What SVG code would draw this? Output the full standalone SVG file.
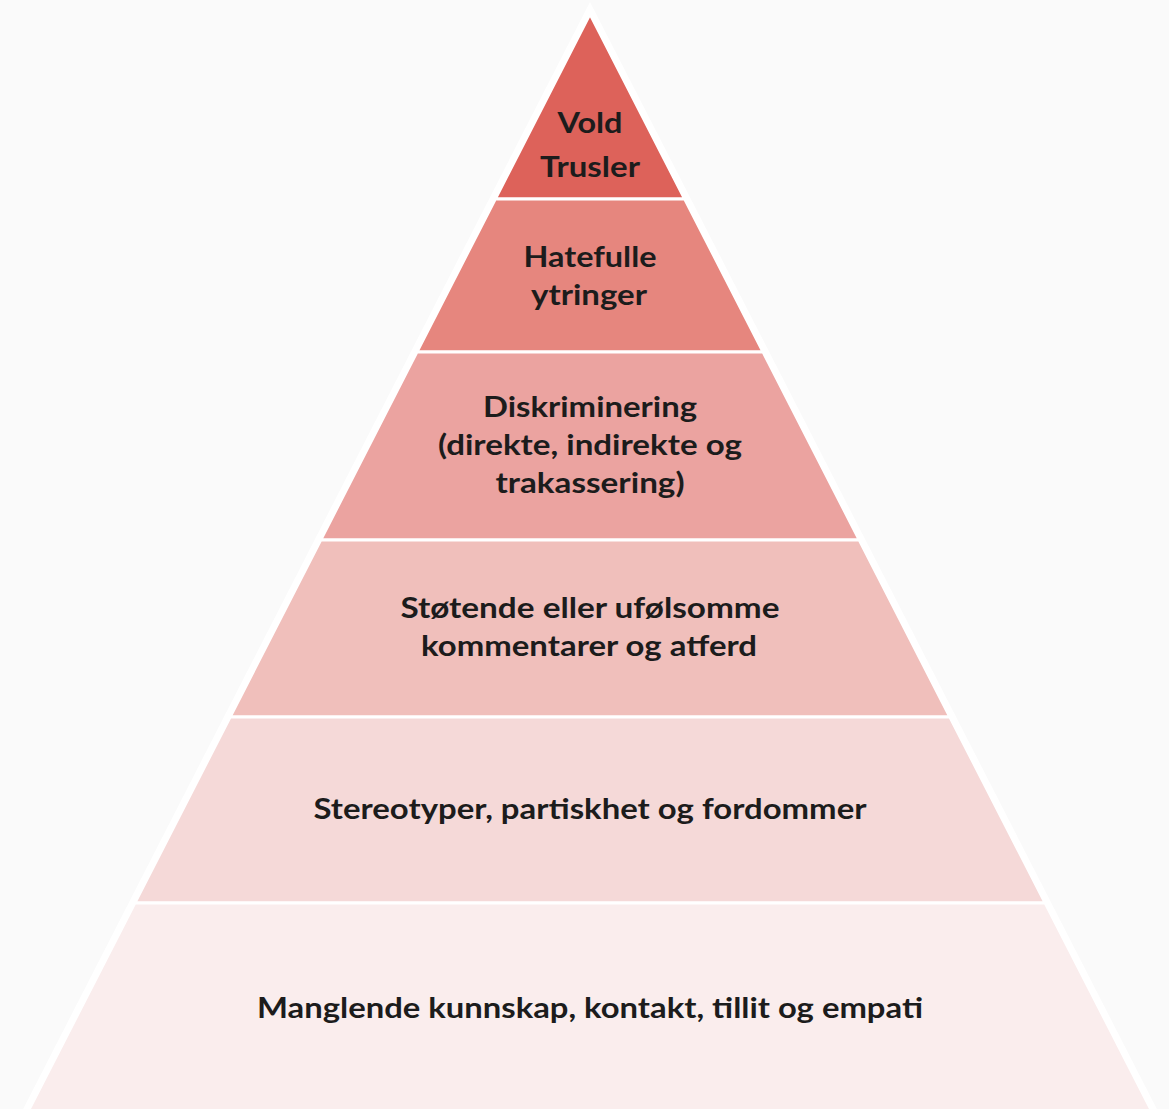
<svg xmlns="http://www.w3.org/2000/svg" width="1169" height="1109" viewBox="0 0 1169 1109">
  <style>
    .layer { stroke: #ffffff; stroke-width: 3; stroke-linejoin: miter; }
    .lbl { font-family: Lato, "Open Sans", "Liberation Sans", sans-serif; font-weight: bold; font-size: 29px; fill: #1c1c1c; text-anchor: middle; }
  </style>
  <rect x="0" y="0" width="1169" height="1109" fill="#fafafa"/>
  <polygon points="590,14 23.7,1120 1156.3,1120" fill="#ffffff" stroke="#ffffff" stroke-width="11" stroke-linejoin="miter"/>
  <g id="layer1">
    <polygon class="layer" points="590,14 684.7,199 495.3,199" fill="#dd625a"/>
    <text class="lbl" x="590" y="133" textLength="65" lengthAdjust="spacingAndGlyphs">Vold</text>
    <text class="lbl" x="590" y="177" textLength="100" lengthAdjust="spacingAndGlyphs">Trusler</text>
  </g>
  <g id="layer2">
    <polygon class="layer" points="495.3,199 684.7,199 763.1,352 416.9,352" fill="#e6867e"/>
    <text class="lbl" x="590" y="267" textLength="133" lengthAdjust="spacingAndGlyphs">Hatefulle</text>
    <text class="lbl" x="589" y="305" textLength="116" lengthAdjust="spacingAndGlyphs">ytringer</text>
  </g>
  <g id="layer3">
    <polygon class="layer" points="416.9,352 763.1,352 859.3,540 320.7,540" fill="#eba3a0"/>
    <text class="lbl" x="590" y="417" textLength="214" lengthAdjust="spacingAndGlyphs">Diskriminering</text>
    <text class="lbl" x="590" y="455" textLength="304" lengthAdjust="spacingAndGlyphs">(direkte, indirekte og</text>
    <text class="lbl" x="590" y="493" textLength="189" lengthAdjust="spacingAndGlyphs">trakassering)</text>
  </g>
  <g id="layer4">
    <polygon class="layer" points="320.7,540 859.3,540 949.9,717 230.1,717" fill="#f0bfbb"/>
    <text class="lbl" x="590" y="618" textLength="379" lengthAdjust="spacingAndGlyphs">Støtende eller ufølsomme</text>
    <text class="lbl" x="589" y="656" textLength="336" lengthAdjust="spacingAndGlyphs">kommentarer og atferd</text>
  </g>
  <g id="layer5">
    <polygon class="layer" points="230.1,717 949.9,717 1045.2,903 134.8,903" fill="#f5d9d8"/>
    <text class="lbl" x="590" y="819" textLength="553" lengthAdjust="spacingAndGlyphs">Stereotyper, partiskhet og fordommer</text>
  </g>
  <g id="layer6">
    <polygon class="layer" points="134.8,903 1045.2,903 1156.3,1120 23.7,1120" fill="#faeded"/>
    <text class="lbl" x="590" y="1018" textLength="666" lengthAdjust="spacingAndGlyphs">Manglende kunnskap, kontakt, tillit og empati</text>
  </g>
  <g id="connectors"/>
</svg>
